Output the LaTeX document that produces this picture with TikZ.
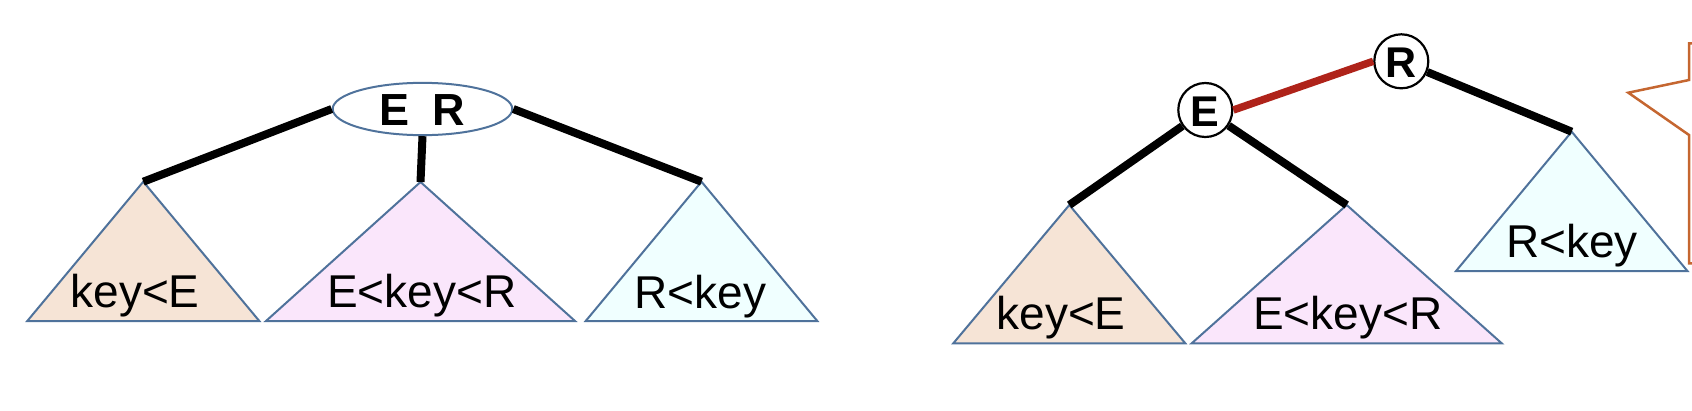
\documentclass[tikz,border=0pt]{standalone}
\usepackage{fontspec}
\setmainfont{Liberation Sans}
\usetikzlibrary{shapes.geometric}
\definecolor{triline}{RGB}{79,114,155}
\definecolor{peach}{RGB}{246,228,214}
\definecolor{lav}{RGB}{250,230,251}
\definecolor{cyanl}{RGB}{240,255,255}
\definecolor{redl}{RGB}{175,35,26}
\definecolor{orangel}{RGB}{197,102,48}
\begin{document}
\begin{tikzpicture}[x=1pt,y=-1pt,
  tri/.style={draw=triline, line width=2pt, line join=miter},
  lbl/.style={inner sep=0pt, anchor=base, font=\fontsize{46}{50}\selectfont},
  link/.style={line width=8pt, draw=black},
  keynode/.style={circle, draw=black, line width=2.2pt, fill=white, minimum size=54pt, inner sep=0pt,
    font=\fontsize{43}{48}\selectfont\bfseries, text height=32pt, text depth=0pt},
  multinode/.style={ellipse, draw=triline, line width=2pt, fill=white, minimum width=179.6pt,
    minimum height=52.3pt, inner sep=0pt, font=\fontsize{45}{50}\selectfont\bfseries,
    text height=32pt, text depth=0pt},
  callout/.style={draw=orangel, line width=2.5pt, line join=miter}
]
\useasboundingbox (0,0) rectangle (1692,410);

% apex coordinates
\coordinate (t1) at (143.3,181.7);
\coordinate (t2) at (420.5,182);
\coordinate (t3) at (701.5,181.7);
\coordinate (t4) at (1069.3,205);
\coordinate (t5) at (1346.7,205);
\coordinate (t6) at (1571.7,131.7);

% subtrees
\filldraw[tri, fill=peach] (t1) -- ++(-116,139.3) -- ++(232,0) -- cycle;
\filldraw[tri, fill=lav]   (t2) -- ++(-154.5,139) -- ++(309,0) -- cycle;
\filldraw[tri, fill=cyanl] (t3) -- ++(-115.8,139.3) -- ++(231.6,0) -- cycle;
\filldraw[tri, fill=peach] (t4) -- ++(-116,138.3) -- ++(232,0) -- cycle;
\filldraw[tri, fill=lav]   (t5) -- ++(-155,138.3) -- ++(310,0) -- cycle;
\filldraw[tri, fill=cyanl] (t6) -- ++(-115.7,139.3) -- ++(231.4,0) -- cycle;

% labels
\node[lbl] (l1) at (135,307) {key<E};
\node[lbl] (l2) at (421.7,307.5) {E<key<R};
\node[lbl] (l3) at (700.5,308) {R<key};
\node[lbl] (l4) at (1061,329) {key<E};
\node[lbl] (l5) at (1347.7,329) {E<key<R};
\node[lbl] (l6) at (1572,257.5) {R<key};

% nodes
\node[multinode] (ER) at (422.5,109) {E\hspace{0.52em}R};
\node[keynode] (E) at (1205.3,110) {E};
\node[keynode] (R) at (1401.3,61.3) {R};

% links
\draw[link] (ER.west) -- (t1);
\draw[link] (ER.south) -- (t2);
\draw[link] (ER.east) -- (t3);
\draw[link] (E) -- (t4);
\draw[link] (E) -- (t5);
\draw[link] (R) -- (t6);
\draw[link, line width=7.5pt, draw=redl] (E.east) -- (R.west);

% callout edge
\draw[callout] (1693,43.3) -- (1689,43.3) -- (1689,80) -- (1628.3,92.7) -- (1689,135)
  -- (1689,263.3) -- (1693,263.3);
\end{tikzpicture}
\end{document}
